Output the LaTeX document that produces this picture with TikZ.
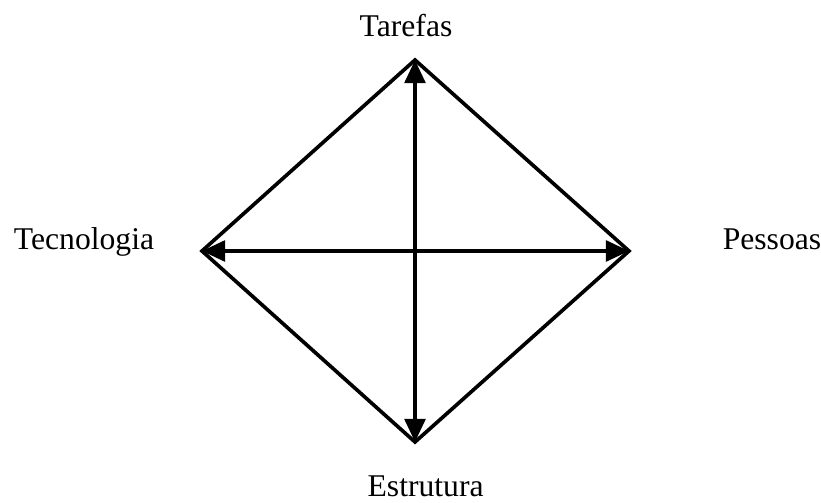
\documentclass[tikz,border=0pt]{standalone}
\usepackage{fontspec}
\setmainfont{Liberation Serif}
\usetikzlibrary{arrows.meta}

\begin{document}
\begin{tikzpicture}[
    label text/.style={anchor=base, inner sep=0pt, font=\fontsize{22.5}{27}\selectfont},
    edge/.style={line width=2.6pt},
    link/.style={line width=2.6pt, {Triangle[length=0.58cm,width=0.52cm]}-{Triangle[length=0.58cm,width=0.52cm]}}
]
\useasboundingbox (0,0) rectangle (20.525,12.55);

% vertices of the diamond
\coordinate (top) at (10.375,11.05);
\coordinate (bottom) at (10.375,1.5);
\coordinate (left) at (5.05,6.275);
\coordinate (right) at (15.725,6.275);

\draw [edge] (top) -- (right) -- (bottom) -- (left) -- cycle;

% arrows between opposite corners
\draw [link] (bottom) -- (top);
\draw [link] (left) -- (right);

% labels
\node [label text] (tarefas) at (10.15,11.625) {Tarefas};
\node [label text] (tecnologia) at (2.1,6.3) {Tecnologia};
\node [label text] (pessoas) at (19.3,6.3) {Pessoas};
\node [label text] (estrutura) at (10.64,0.14) {Estrutura};

\end{tikzpicture}
\end{document}
